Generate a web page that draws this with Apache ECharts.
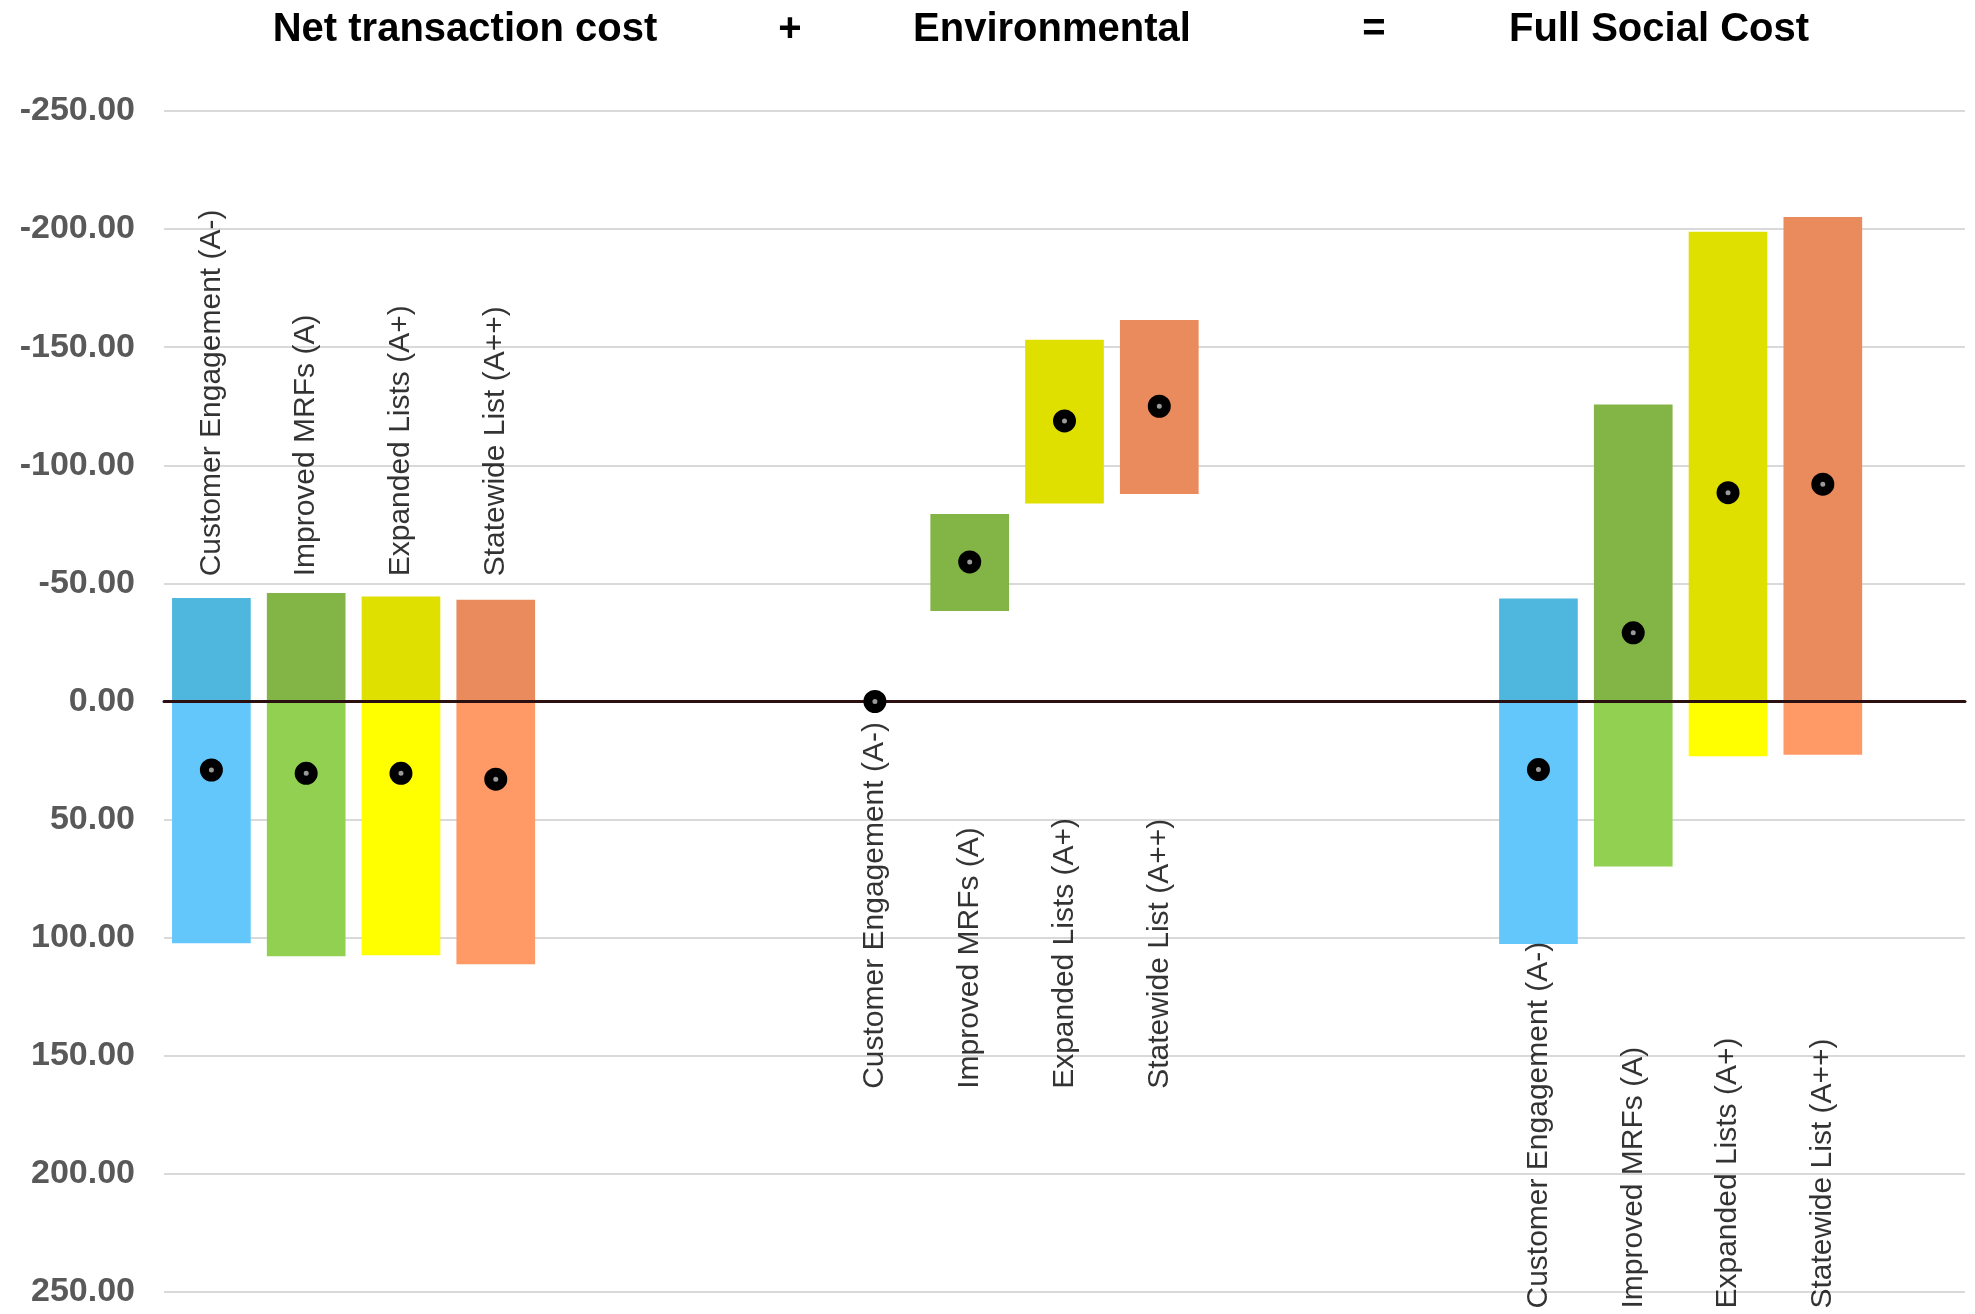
<!DOCTYPE html>
<html>
<head>
<meta charset="utf-8">
<script src="https://cdn.jsdelivr.net/npm/echarts@6/dist/echarts.min.js"></script>
<style>
  html, body { margin: 0; padding: 0; background: #fff; }
  #chart { width: 1975px; height: 1314px; }
</style>
</head>
<body>
<div id="chart"></div>
<script>
// measures (A- .. A++)
var measures = ['Customer Engagement (A-)', 'Improved MRFs (A)', 'Expanded Lists (A+)', 'Statewide List (A++)'];
var groupTitles = ['Net transaction cost', 'Environmental', 'Full Social Cost'];
var yTicks = [-250, -200, -150, -100, -50, 0, 50, 100, 150, 200, 250];

// range low / high and point estimate, per group
var netLow  = [-43.8, -45.9, -44.5, -43.1];
var netHigh = [102.3, 107.9, 107.4, 111.2];
var netMid  = [29.0, 30.4, 30.4, 32.9];

var envLow  = [null, -79.4, -153.2, -161.5];
var envHigh = [null, -38.3, -83.8, -87.8];
var envMid  = [0, -59.1, -118.8, -125.0];

var fullLow  = [-43.6, -125.7, -198.9, -205.1];
var fullHigh = [102.7, 69.9, 23.2, 22.5];
var fullMid  = [28.8, -29.1, -88.4, -92.0];

// colours: part below zero value (top) / part above zero value (bottom)
var darkColors  = ['#4FB7DD', '#83B546', '#E0E000', '#E98B5C'];
var lightColors = ['#63C7FB', '#92D051', '#FFFF00', '#FF9966'];

// layout: each group takes 4 slots, with 3 blank slots between groups
var groupStart = [0, 7, 14];
var slotCount = 19;
var labelBase = [-53, 164, 257];

var slots = [];
for (var s = 0; s < slotCount; s++) slots.push('s' + s);

var lows = [netLow, envLow, fullLow];
var highs = [netHigh, envHigh, fullHigh];
var mids = [netMid, envMid, fullMid];

var rangeData = [], dotData = [], labelData = [];
for (var g = 0; g < 3; g++) {
    for (var i = 0; i < measures.length; i++) {
        var slot = groupStart[g] + i;
        if (lows[g][i] != null) {
            rangeData.push([slot, lows[g][i], highs[g][i], i]);
        }
        dotData.push([slot, mids[g][i]]);
        labelData.push({ value: [slot, labelBase[g]], name: measures[i] });
    }
}

function renderRange(params, api) {
    var x = api.value(0), lo = api.value(1), hi = api.value(2), k = api.value(3);
    var w = api.size([1, 0])[0] * 0.83;
    var kids = [];
    if (lo < 0) {
        var a = api.coord([x, lo]), b = api.coord([x, Math.min(hi, 0)]);
        kids.push({
            type: 'rect',
            shape: { x: a[0] - w / 2, y: Math.min(a[1], b[1]), width: w, height: Math.abs(b[1] - a[1]) },
            style: { fill: darkColors[k] }
        });
    }
    if (hi > 0) {
        var c = api.coord([x, Math.max(lo, 0)]), d = api.coord([x, hi]);
        kids.push({
            type: 'rect',
            shape: { x: c[0] - w / 2, y: Math.min(c[1], d[1]), width: w, height: Math.abs(d[1] - c[1]) },
            style: { fill: lightColors[k] }
        });
    }
    return { type: 'group', children: kids };
}

var titleX = [465, 790, 1052, 1374, 1659];
var titleText = [groupTitles[0], '+', groupTitles[1], '=', groupTitles[2]];
var titles = [];
for (var t = 0; t < titleText.length; t++) {
    titles.push({
        text: titleText[t],
        left: titleX[t] - 5,
        top: 5,
        textAlign: 'center',
        textStyle: { fontFamily: 'Liberation Sans', fontWeight: 'bold', fontSize: 40, color: '#000' }
    });
}

var chart = echarts.init(document.getElementById('chart'));
chart.setOption({
    animation: false,
    backgroundColor: '#fff',
    title: titles,
    grid: { left: 164, right: 10, top: 111, bottom: 22 },
    xAxis: {
        type: 'category',
        data: slots,
        z: 5,
        axisLine: { onZero: true, lineStyle: { color: '#2a1010', width: 3 } },
        axisTick: { show: false },
        axisLabel: { show: false },
        splitLine: { show: false }
    },
    yAxis: {
        type: 'value',
        inverse: true,
        min: yTicks[0],
        max: yTicks[yTicks.length - 1],
        interval: 50,
        axisLine: { show: false },
        axisTick: { show: false },
        axisLabel: {
            margin: 29,
            fontFamily: 'Liberation Sans',
            fontWeight: 'bold',
            fontSize: 34,
            color: '#595959',
            formatter: function (v) { return v.toFixed(2); }
        },
        splitLine: { lineStyle: { color: '#d9d9d9', width: 2 } }
    },
    series: [
        {
            name: 'range',
            type: 'custom',
            renderItem: renderRange,
            data: rangeData,
            z: 2,
            silent: true
        },
        {
            name: 'estimate',
            type: 'scatter',
            data: dotData,
            symbol: 'circle',
            symbolSize: 14,
            itemStyle: { color: '#9a9a9a', borderColor: '#000', borderWidth: 9, opacity: 1 },
            z: 10,
            silent: true
        },
        {
            name: 'labels',
            type: 'scatter',
            data: labelData,
            symbolSize: 0,
            clip: false,
            z: 11,
            silent: true,
            label: {
                show: true,
                position: 'inside',
                rotate: 90,
                align: 'left',
                verticalAlign: 'middle',
                formatter: '{b}',
                fontFamily: 'Liberation Sans',
                fontSize: 30,
                color: '#000'
            }
        }
    ]
});
</script>
</body>
</html>
